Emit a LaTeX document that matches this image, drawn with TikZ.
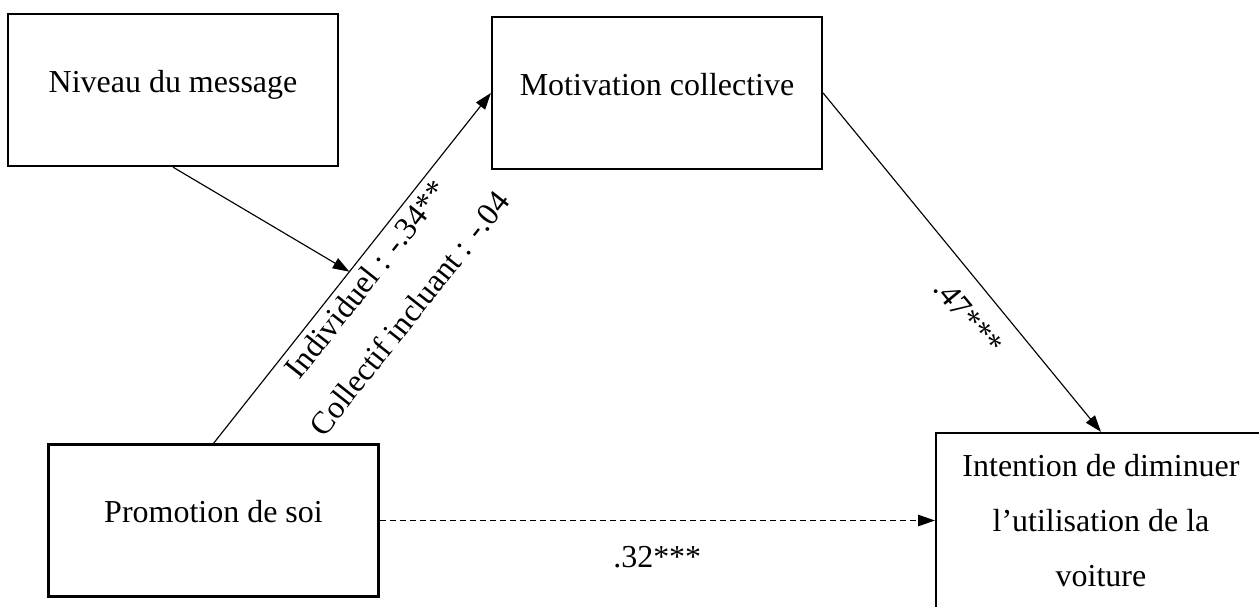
\documentclass[tikz,border=0pt]{standalone}
\usepackage{fontspec}
\setmainfont{Liberation Serif}
\usetikzlibrary{arrows.meta,positioning}

\begin{document}
\begin{tikzpicture}[x=0.02cm,y=-0.02cm,
  txt/.style={font=\fontsize{18.2}{31.3}\selectfont},
  box/.style={txt,draw,line width=1.3pt,minimum width=6.6cm,minimum height=3.04cm,
    text height=12.4pt,text depth=10pt},
  bigbox/.style={txt,draw,line width=1.3pt,align=center,minimum width=6.6cm,minimum height=3.52cm},
  link/.style={line width=0.65pt,-{Triangle[length=9.5pt,width=6.5pt]}},
  dashlink/.style={link,dash pattern=on 3.4pt off 2.3pt}]
  \clip (0,0) rectangle (1259,606);
  % variables
  \node[box] (niveau) at (173,90) {Niveau du message};
  \node[box] (motiv) at (657,93) {Motivation collective};
  \node[box] (promo) at (213.5,520.5) {Promotion de soi};
  \node[bigbox] (intent) at (1101,521) {Intention de diminuer\\l’utilisation de la\\voiture};
  % paths
  \draw[link] (promo.north) -- coordinate[pos=0.49] (mod)
    node[pos=0.5,sloped,below=0pt,txt,align=center] (coefa) {Individuel : -.34**\\Collectif incluant : -.04}
    (motiv.west);
  \draw[link] (niveau.south) -- (mod); %moderation
  \draw[link] (motiv.east) -- node[pos=0.605,sloped,below=7pt,txt] (coefb) {.47***} (intent.north);
  \draw[dashlink] (promo.east) -- node[midway,below=11pt,txt] (coefc) {.32***} (promo.east -| intent.west);
\end{tikzpicture}
\end{document}
